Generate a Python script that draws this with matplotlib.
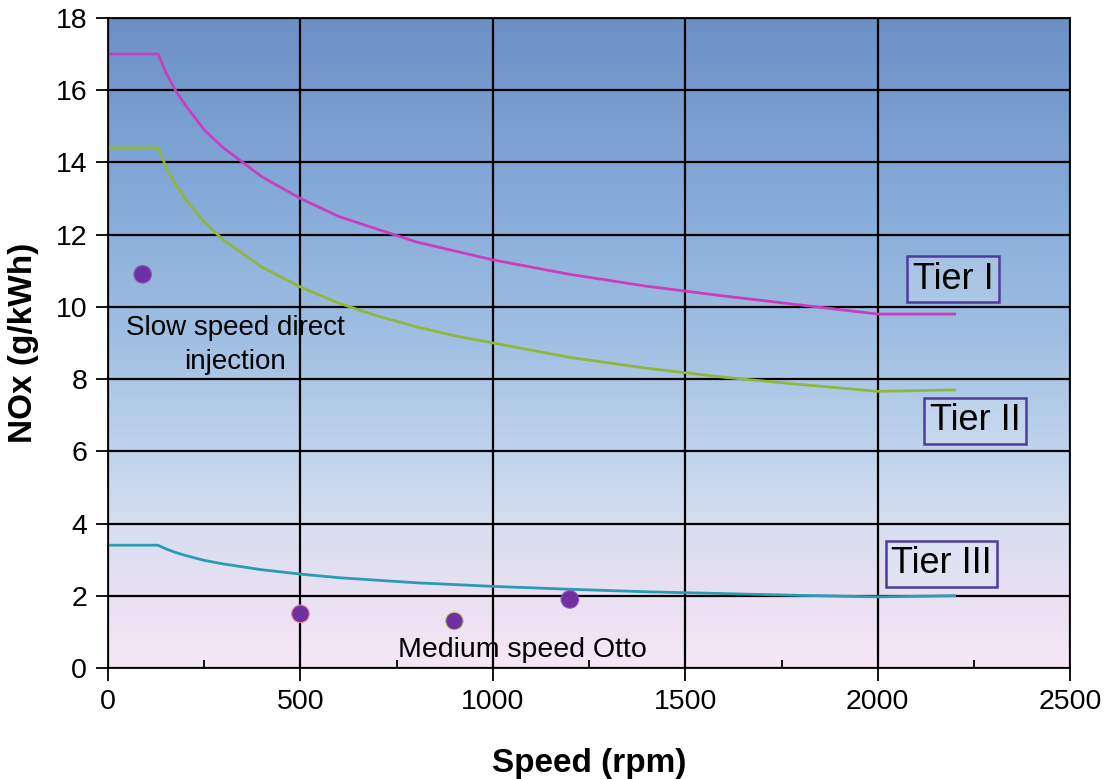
import numpy as np
import matplotlib.pyplot as plt
from matplotlib.colors import LinearSegmentedColormap

plt.rcParams['font.family'] = ['Liberation Sans', 'DejaVu Sans']

# Limit curves (speed in rpm, NOx in g/kWh)
speed = [0, 130, 150, 175, 200, 250, 300, 400, 500, 600, 700, 800, 900,
         1000, 1200, 1400, 1600, 1800, 2000, 2200]
tier1 = [17.0, 17.0, 16.5, 16.0, 15.6, 14.9, 14.4, 13.6, 13.0, 12.5, 12.15,
         11.8, 11.55, 11.3, 10.9, 10.57, 10.3, 10.05, 9.8, 9.8]
tier2 = [14.4, 14.4, 13.9, 13.4, 13.0, 12.35, 11.85, 11.1, 10.55, 10.1, 9.75,
         9.45, 9.2, 9.0, 8.6, 8.3, 8.05, 7.85, 7.66, 7.7]
tier3 = [3.4, 3.4, 3.3, 3.2, 3.12, 2.98, 2.88, 2.72, 2.6, 2.5, 2.43, 2.36,
         2.31, 2.26, 2.18, 2.11, 2.06, 2.01, 1.97, 2.0]

# Engine measurements
pt_speed = [90, 500, 900, 1200]
pt_nox = [10.9, 1.5, 1.3, 1.9]
pt_edge = ['#8A5AB8', '#E08890', '#B8CC80', '#8A5AB8']

fig = plt.figure(figsize=(11.09, 7.79), dpi=100)
ax = fig.add_axes([0.0974, 0.1425, 0.8676, 0.8345])

# gradient background, pale pink at the bottom up to blue at the top
bg = LinearSegmentedColormap.from_list('bg', [
    (0.0, '#F6E7F5'), (0.11, '#E9E0F2'), (0.22, '#D6DEF0'),
    (0.33, '#C0D4EC'), (0.5, '#A0C0E3'), (0.75, '#82A8D8'),
    (1.0, '#6A90C6')])
grad = np.linspace(0, 1, 256).reshape(-1, 1)
ax.imshow(grad, cmap=bg, origin='lower', aspect='auto',
          extent=[0, 2500, 0, 18], zorder=0)

ax.plot(speed, tier1, color='#CC3DBE', lw=2.0, zorder=3)
ax.plot(speed, tier2, color='#8DB83C', lw=2.0, zorder=3)
ax.plot(speed, tier3, color='#2A9CB2', lw=2.0, zorder=3)
ax.scatter(pt_speed, pt_nox, s=160, c='#7030A0', edgecolors=pt_edge,
           linewidths=0.8, zorder=4)

ax.set_xlim(0, 2500)
ax.set_ylim(0, 18)
ax.set_xticks(range(0, 2501, 500))
ax.set_xticks(range(250, 2500, 500), minor=True)
ax.set_yticks(range(0, 19, 2))
ax.grid(True, which='major', color='black', lw=1.6, zorder=1)
ax.set_axisbelow(False)
ax.tick_params(axis='both', which='major', direction='out', length=9,
               width=1.3, labelsize=20.5, pad=6)
ax.tick_params(axis='x', which='minor', direction='in', length=6, width=1.3)
for s in ax.spines.values():
    s.set_linewidth(1.3)
    s.set_zorder(5)

ax.set_xlabel('Speed (rpm)', fontsize=24, fontweight='bold', labelpad=24)
ax.set_ylabel('NOx (g/kWh)', fontsize=24, fontweight='bold', labelpad=12)

ax.text(330, 8.95, 'Slow speed direct\ninjection', ha='center', va='center',
        fontsize=20, linespacing=1.4, zorder=6)
ax.text(1076, 0.5, 'Medium speed Otto', ha='center', va='center',
        fontsize=20.5, zorder=6)

box = dict(boxstyle='square,pad=0.15', facecolor=(0.87, 0.91, 0.96, 0.3),
           edgecolor='#4B3C9E', lw=1.8)
ax.text(2196, 10.77, 'Tier I', ha='center', va='center', fontsize=26,
        bbox=box, zorder=6)
ax.text(2253, 6.84, 'Tier II', ha='center', va='center', fontsize=26,
        bbox=box, zorder=6)
ax.text(2165, 2.88, 'Tier III', ha='center', va='center', fontsize=26,
        bbox=box, zorder=6)

fig.savefig('out.png', dpi=100)
